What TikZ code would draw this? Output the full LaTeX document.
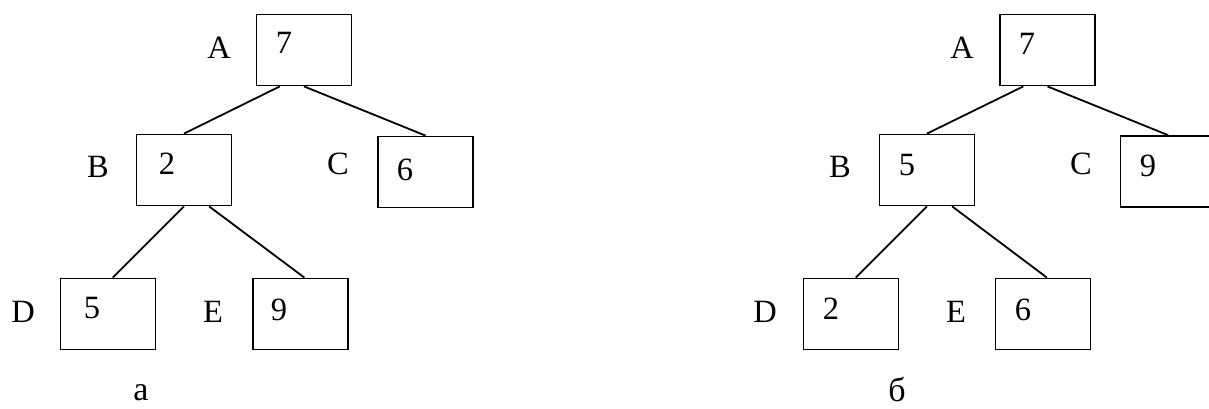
\documentclass[tikz,border=0pt]{standalone}
\usepackage{fontspec}
\setmainfont{Liberation Serif}
\usetikzlibrary{calc}
\tikzset{
  box/.style={draw, line width=1.8pt, minimum width=95pt, minimum height=71pt, inner sep=0pt},
  txt/.style={inner sep=0pt, font=\fontsize{32.5}{38}\selectfont},
  captext/.style={inner sep=0pt, font=\fontsize{34}{40}\selectfont},
  edge/.style={line width=1.8pt}
}
\begin{document}
\begin{tikzpicture}[x=1pt,y=-1pt]
\clip (0,0) rectangle (1209,408);
\fill[white] (0,0) rectangle (1209,408);
% left tree (a)
\node[box] (lA) at (304,50) {};
\node[box] (lB) at (184,170) {};
\node[box] (lC) at (425.5,172) {};
\node[box] (lD) at (108,314) {};
\node[box] (lE) at (300.5,314) {};
\node[txt] (lAl) at (219,48) {A};
\node[txt] (lAv) at (284,43) {7};
\node[txt] (lBl) at (98,167) {B};
\node[txt] (lBv) at (167,164) {2};
\node[txt] (lCl) at (338,164) {C};
\node[txt] (lCv) at (405,170) {6};
\node[txt] (lDl) at (23,312) {D};
\node[txt] (lDv) at (92,308) {5};
\node[txt] (lEl) at (213,312) {E};
\node[txt] (lEv) at (279,310) {9};
\node[captext] (lcap) at (141,393) {а};
\draw[edge] ($(lA.south west)!0.25!(lA.south east)$) -- (lB.north);
\draw[edge] (lA.south) -- (lC.north);
\draw[edge] (lB.south) -- ($(lD.north west)!0.55!(lD.north east)$);
\draw[edge] ($(lB.south west)!0.76!(lB.south east)$) -- ($(lE.north west)!0.54!(lE.north east)$);
% right tree (б)
\node[box] (rA) at (1047.5,50) {};
\node[box] (rB) at (927,170) {};
\node[box] (rC) at (1168,171.5) {};
\node[box] (rD) at (851,314) {};
\node[box] (rE) at (1043,314) {};
\node[txt] (rAl) at (962,48) {A};
\node[txt] (rAv) at (1027,44) {7};
\node[txt] (rBl) at (840,167) {B};
\node[txt] (rBv) at (907,165) {5};
\node[txt] (rCl) at (1081,164) {C};
\node[txt] (rCv) at (1148,166) {9};
\node[txt] (rDl) at (765,312) {D};
\node[txt] (rDv) at (831,309) {2};
\node[txt] (rEl) at (956,312) {E};
\node[txt] (rEv) at (1023,310) {6};
\node[captext] (rcap) at (897,389) {б};
\draw[edge] ($(rA.south west)!0.25!(rA.south east)$) -- (rB.north);
\draw[edge] (rA.south) -- (rC.north);
\draw[edge] (rB.south) -- ($(rD.north west)!0.55!(rD.north east)$);
\draw[edge] ($(rB.south west)!0.76!(rB.south east)$) -- ($(rE.north west)!0.54!(rE.north east)$);
\end{tikzpicture}
\end{document}
